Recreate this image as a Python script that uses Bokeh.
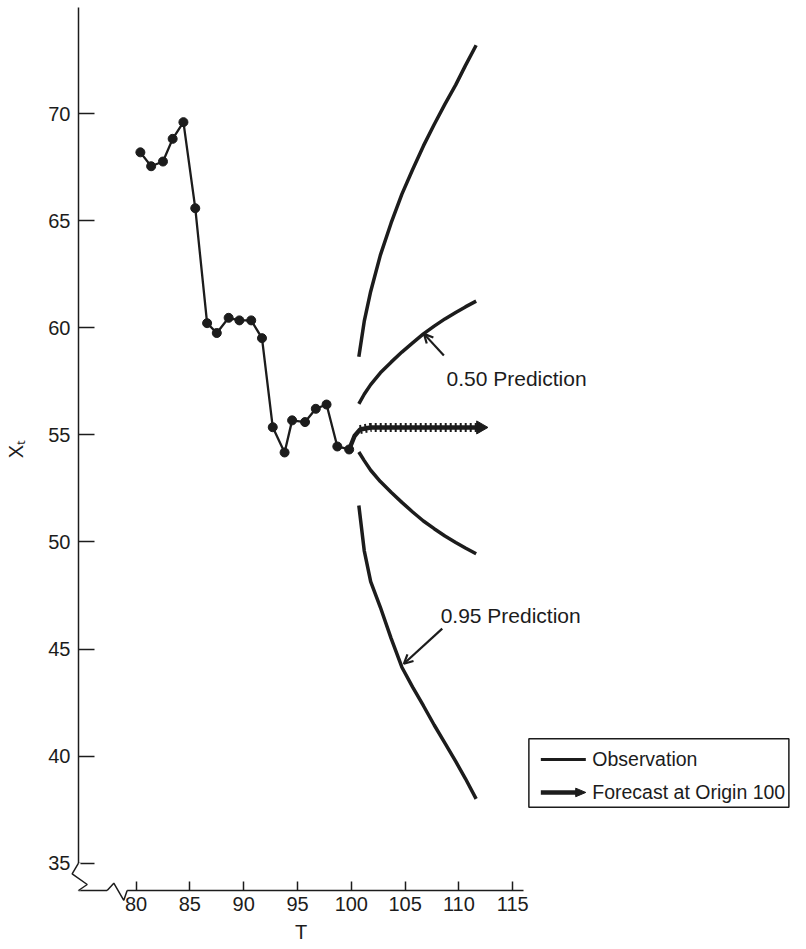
import math
from bokeh.plotting import figure
from bokeh.models import Range1d, FixedTicker, Arrow, OpenHead, ColumnDataSource
from bokeh.embed import file_html
from bokeh.resources import INLINE
from bokeh.core.properties import value

# ---------------- data ----------------
obs_t = [80.4, 81.4, 82.5, 83.4, 84.4, 85.5, 86.6, 87.5, 88.6, 89.6,
         90.7, 91.7, 92.7, 93.8, 94.5, 95.7, 96.7, 97.7, 98.7, 99.8]
obs_x = [68.2, 67.55, 67.77, 68.83, 69.61, 65.59, 60.22, 59.76, 60.47, 60.35,
         60.35, 59.52, 55.36, 54.18, 55.68, 55.6, 56.22, 56.42, 54.46, 54.32]

fc_t = [99.8, 100.3, 100.8, 101.8, 102.8, 103.8, 104.8, 105.8, 106.8,
        107.8, 108.8, 109.8, 110.8, 112.0]
fc_x = [54.32, 54.95, 55.25, 55.35, 55.35, 55.35, 55.35, 55.35, 55.35,
        55.35, 55.35, 55.35, 55.35, 55.35]

pi_t = [100.7, 101.2, 101.8, 102.7, 103.7, 104.7, 105.7, 106.7, 107.7,
        108.7, 109.7, 110.6, 111.6]
up95 = [58.65, 60.3, 61.7, 63.4, 64.9, 66.25, 67.4, 68.5, 69.5, 70.45, 71.35, 72.25, 73.2]
up50 = [56.45, 56.9, 57.35, 57.9, 58.4, 58.87, 59.3, 59.72, 60.08, 60.42, 60.72, 60.98, 61.25]
lo50 = [54.2, 53.8, 53.35, 52.82, 52.32, 51.85, 51.4, 50.98, 50.62, 50.28, 49.98, 49.72, 49.45]
lo95 = [51.7, 49.6, 48.15, 46.95, 45.5, 44.15, 43.22, 42.35, 41.45, 40.6, 39.75, 38.95, 38.0]

note_text = ["0.50 Prediction", "0.95 Prediction"]
note_t = [108.85, 108.3]
note_x = [57.64, 46.57]
note_arrow_t0 = [108.6, 108.45]
note_arrow_x0 = [58.71, 45.95]
note_arrow_t1 = [106.75, 104.88]
note_arrow_x1 = [59.72, 44.31]

x_ticks = [80, 85, 90, 95, 100, 105, 110, 115]
y_ticks = [35, 40, 45, 50, 55, 60, 65, 70]

legend_labels = ["Observation", "Forecast at Origin 100"]

# layout helpers (positions in data units) -------------------------
brk_y_t = [74.65, 74.06, 75.46, 74.65]          # y-axis break zig-zag
brk_y_x = [35.0, 34.50, 34.0, 33.72]
brk_x_t = [77.31, 77.93, 78.86, 79.17]          # x-axis break zig-zag
brk_x_x = [33.72, 34.06, 33.26, 33.72]
leg_box = dict(left=116.5, right=140.66, top=40.81, bottom=37.61)
leg_row_y = [39.84, 38.30]
leg_glyph_t = [117.61, 121.79]
leg_head = dict(back=120.85, half=0.2)
leg_text_t = 122.39

INK = "#1c1c1c"
FONT = "Liberation Sans"

p = figure(width=806, height=949,
           x_range=Range1d(74.65, 116.0), y_range=Range1d(33.72, 74.965),
           output_backend="svg", toolbar_location=None,
           min_border_left=78, min_border_right=283,
           min_border_top=7, min_border_bottom=59)
p.grid.visible = False
p.outline_line_color = None
p.background_fill_color = "white"
p.border_fill_color = "white"

for ax, ticks, tin in ((p.xaxis[0], x_ticks, 9), (p.yaxis[0], y_ticks, 16)):
    ax.ticker = FixedTicker(ticks=ticks)
    ax.major_tick_in = tin
    ax.major_tick_out = 0
    ax.minor_tick_line_color = None
    ax.axis_line_color = INK
    ax.axis_line_width = 1.5
    ax.major_tick_line_color = INK
    ax.major_tick_line_width = 1.5
    ax.major_label_text_font = FONT
    ax.major_label_text_font_size = "20px"
    ax.major_label_text_color = INK
    ax.axis_label_text_font = FONT
    ax.axis_label_text_font_size = "20px"
    ax.axis_label_text_font_style = "normal"
    ax.axis_label_text_color = INK

p.xaxis.axis_label = "T"
p.xaxis.major_label_standoff = 6
p.xaxis.axis_label_standoff = 7
p.yaxis.axis_label = "X\u209c"
p.yaxis.major_label_standoff = 8
p.yaxis.axis_label_standoff = 18

# observations
p.line(obs_t, obs_x, line_color=INK, line_width=2.3)
p.scatter(obs_t, obs_x, size=9, marker="circle", fill_color=INK, line_color=INK)

# prediction limits
for ys in (up95, up50, lo50, lo95):
    p.line(pi_t, ys, line_color=INK, line_width=3.5)

# forecast
p.line(fc_t, fc_x, line_color=INK, line_width=4.5)
p.line(fc_t[2:], fc_x[2:], line_color=INK, line_width=9, line_dash="2 3")
p.scatter([fc_t[-1]], [fc_x[-1]], marker="triangle", size=13,
          angle=-math.pi / 2, fill_color=INK, line_color=INK)

# notes
p.text(note_t, note_x, text=note_text, text_font=value(FONT),
       text_font_size="21px", text_color=INK, text_align="left",
       text_baseline="alphabetic", level="overlay")
arr_src = ColumnDataSource(dict(t0=note_arrow_t0, x0=note_arrow_x0,
                                t1=note_arrow_t1, x1=note_arrow_x1))
p.add_layout(Arrow(x_start="t0", y_start="x0", x_end="t1", y_end="x1",
                   source=arr_src, line_color=INK, line_width=2.2,
                   end=OpenHead(size=9, line_color=INK, line_width=2.2)))

# axis breaks
p.line([brk_y_t[0], brk_y_t[-1]], [brk_y_x[0], brk_y_x[-1]], line_color="white",
       line_width=4, level="overlay")
p.line([brk_x_t[0], brk_x_t[-1]], [brk_x_x[0], brk_x_x[-1]], line_color="white",
       line_width=4, level="overlay")
p.line(brk_y_t, brk_y_x, line_color=INK, line_width=1.5, level="overlay")
p.line(brk_x_t, brk_x_x, line_color=INK, line_width=1.5, level="overlay")

# legend (drawn beside the frame)
p.quad(left=[leg_box["left"]], right=[leg_box["right"]], top=[leg_box["top"]],
       bottom=[leg_box["bottom"]], fill_color="white", line_color=INK,
       line_width=1.5, level="overlay")
p.line(leg_glyph_t, [leg_row_y[0]] * 2, line_color=INK, line_width=3,
       level="overlay")
p.line([leg_glyph_t[0], leg_head["back"] + 0.2], [leg_row_y[1]] * 2,
       line_color=INK, line_width=4.5, level="overlay")
p.patch([leg_head["back"], leg_glyph_t[1], leg_head["back"]],
        [leg_row_y[1] + leg_head["half"], leg_row_y[1], leg_row_y[1] - leg_head["half"]],
        fill_color=INK, line_color=INK, line_width=1, level="overlay")
p.text([leg_text_t] * 2, leg_row_y, text=legend_labels, text_font=value(FONT),
       text_font_size="19.5px", text_color=INK, text_align="left",
       text_baseline="middle", level="overlay")

open("out.html", "w").write(file_html(p, INLINE))
